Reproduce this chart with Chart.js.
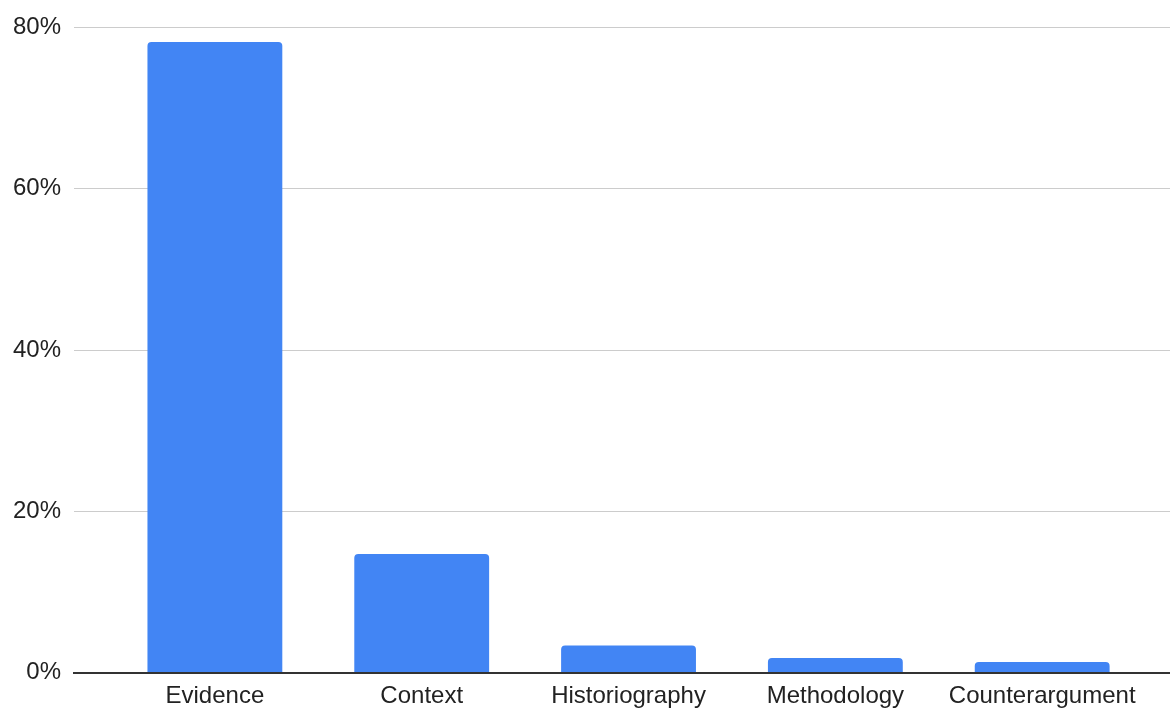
<!DOCTYPE html>
<html>
<head>
<meta charset="utf-8">
<script src="https://cdn.jsdelivr.net/npm/chart.js@4.4.1/dist/chart.umd.min.js"></script>
<style>
  html, body { margin: 0; padding: 0; background: #ffffff; }
  #wrap { width: 1170px; height: 709px; position: relative; }
</style>
</head>
<body>
<div id="wrap"><canvas id="c" width="1170" height="709"></canvas></div>
<script>
const categories = ["Evidence", "Context", "Historiography", "Methodology", "Counterargument"];
const shares = [78.2, 14.7, 3.35, 1.8, 1.3];
const yTicks = [0, 20, 40, 60, 80];

const FONT = '"Liberation Sans", Arial, sans-serif';

new Chart(document.getElementById('c'), {
  type: 'bar',
  data: {
    datasets: [{
      data: shares.map((v, i) => ({ x: i, y: v })),
      backgroundColor: '#4285f4',
      borderRadius: 4,
      borderSkipped: 'start',
      categoryPercentage: 1,
      barPercentage: 0.652
    }]
  },
  options: {
    responsive: false,
    animation: false,
    layout: { padding: { top: 26, left: 0, right: 0, bottom: -11 } },
    plugins: { legend: { display: false }, tooltip: { enabled: false } },
    scales: {
      x: {
        type: 'linear',
        offset: false,
        min: -0.681,
        max: 4.618,
        z: 1,
        afterBuildTicks: s => { s.ticks = categories.map((_, i) => ({ value: i })); },
        grid: { display: false, drawTicks: false, offset: false },
        border: { display: true, color: '#333333', width: 2 },
        ticks: {
          autoSkip: false,
          maxRotation: 0,
          minRotation: 0,
          padding: 10.4,
          color: '#222222',
          font: { family: FONT, size: 24, lineHeight: 1.108 },
          callback: v => categories[v] ?? ''
        }
      },
      y: {
        min: 0,
        max: 80,
        afterBuildTicks: s => { s.ticks = yTicks.map(v => ({ value: v })); },
        grid: { color: '#cccccc', lineWidth: 1, drawTicks: false },
        border: { display: false },
        ticks: {
          padding: 13,
          color: '#222222',
          font: { family: FONT, size: 24 },
          callback: v => v + '%'
        }
      }
    }
  }
});
</script>
</body>
</html>
